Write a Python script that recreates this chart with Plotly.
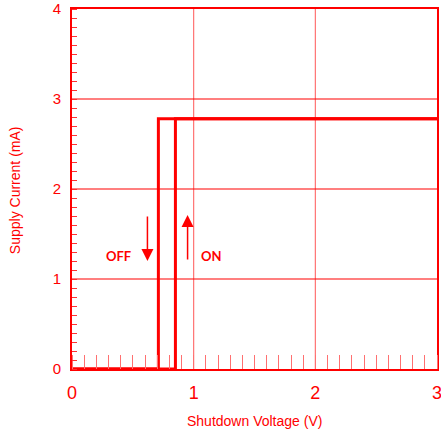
import plotly.graph_objects as go

# Data
off_x = [0, 0.71, 0.71, 3.0]
off_y = [0, 0, 2.78, 2.78]
on_x = [0, 0.85, 0.85, 3.0]
on_y = [0, 0, 2.78, 2.78]

x_ticks = [0, 1, 2, 3]
y_ticks = [0, 1, 2, 3, 4]
x_grid = [1, 2]
y_grid = [1, 2, 3]

RED = "#ff0000"

fig = go.Figure()
fig.add_trace(go.Scatter(x=off_x, y=off_y, mode="lines",
                         line=dict(color=RED, width=3), showlegend=False,
                         hoverinfo="skip"))
fig.add_trace(go.Scatter(x=on_x, y=on_y, mode="lines",
                         line=dict(color=RED, width=3), showlegend=False,
                         hoverinfo="skip"))

# Grid lines
for gx in x_grid:
    fig.add_shape(type="line", x0=gx, x1=gx, y0=0, y1=1, xref="x", yref="paper",
                  line=dict(color="#ff6666", width=1.1), layer="below")
for gy in y_grid:
    fig.add_shape(type="line", x0=0, x1=1, y0=gy, y1=gy, xref="paper", yref="y",
                  line=dict(color="#ff0000", width=1.2), layer="below")

# Arrows
fig.add_annotation(x=0.62, y=1.2, ax=0.62, ay=1.71, xref="x", yref="y",
                   axref="x", ayref="y", text="", showarrow=True,
                   arrowhead=2, arrowsize=1.6, arrowwidth=1.5, arrowcolor=RED)
fig.add_annotation(x=0.95, y=1.71, ax=0.95, ay=1.2, xref="x", yref="y",
                   axref="x", ayref="y", text="", showarrow=True,
                   arrowhead=2, arrowsize=1.6, arrowwidth=1.5, arrowcolor=RED)
fig.add_annotation(x=0.385, y=1.26, text="<b>OFF</b>", showarrow=False,
                   font=dict(family="Lato, Open Sans, sans-serif", size=13, color=RED))
fig.add_annotation(x=1.15, y=1.26, text="<b>ON</b>", showarrow=False,
                   font=dict(family="Lato, Open Sans, sans-serif", size=13, color=RED))

# Axis titles
fig.add_annotation(x=0.5, y=-0.144, xref="paper", yref="paper",
                   text="Shutdown Voltage (V)", showarrow=False,
                   xanchor="center", yanchor="middle",
                   font=dict(size=14, color=RED))
fig.add_annotation(x=-0.156, y=0.497, xref="paper", yref="paper",
                   text="Supply Current (mA)", showarrow=False, textangle=-90,
                   xanchor="center", yanchor="middle",
                   font=dict(size=14, color=RED))

fig.update_layout(
    width=441, height=433,
    margin=dict(l=72, r=4, t=9, b=64, autoexpand=False),
    paper_bgcolor="white", plot_bgcolor="white",
    font=dict(family="Arial, Liberation Sans, sans-serif", color=RED),
    hovermode=False,
)
fig.update_xaxes(
    range=[0, 3], tickvals=x_ticks, ticktext=[str(v) for v in x_ticks],
    tickfont=dict(size=18, color=RED), automargin=False,
    ticklabeloverflow="allow",
    ticks="outside", ticklen=6, tickcolor="rgba(0,0,0,0)",
    showline=True, linecolor=RED, linewidth=2, mirror=True,
    showgrid=False, zeroline=False,
    minor=dict(ticks="inside", ticklen=14, dtick=0.1, tick0=0,
               tickcolor="#ff7070", tickwidth=1, showgrid=False),
)
fig.update_yaxes(
    range=[0, 4], tickvals=y_ticks, ticktext=[str(v) for v in y_ticks],
    tickfont=dict(size=15, color=RED), automargin=False,
    ticklabeloverflow="allow",
    ticks="outside", ticklen=6, tickcolor="rgba(0,0,0,0)",
    showline=True, linecolor=RED, linewidth=2, mirror=True,
    showgrid=False, zeroline=False,
    minor=dict(ticks="inside", ticklen=5, dtick=0.1, tick0=0,
               tickcolor="#ff3030", tickwidth=1, showgrid=False),
)

fig.write_html("out.html", config={"displayModeBar": False},
               post_script="document.body.style.margin='0';")
